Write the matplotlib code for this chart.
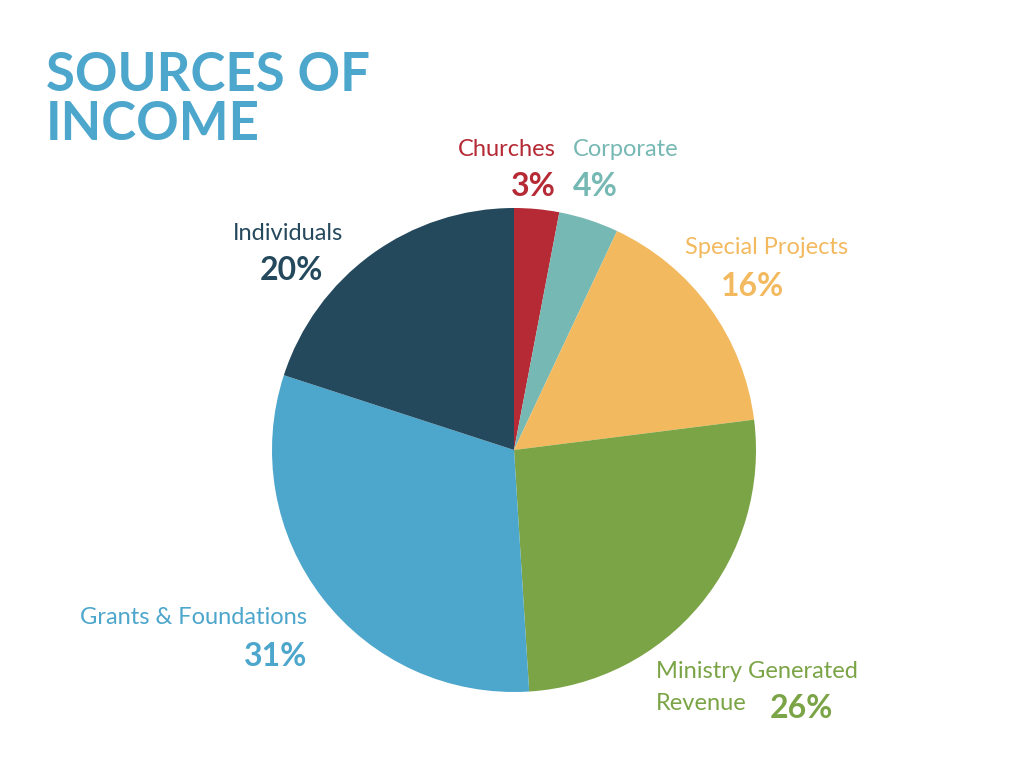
import matplotlib.pyplot as plt

plt.rcParams['font.family'] = ['Lato', 'DejaVu Sans']

categories = ['Churches', 'Corporate', 'Special Projects', 'Ministry Generated\nRevenue',
              'Grants & Foundations', 'Individuals']
values = [3, 4, 16, 26, 31, 20]
colors = ['#B52A35', '#76B8B3', '#F3B95F', '#7BA446', '#4DA6CC', '#25495C']

fig = plt.figure(figsize=(10.24, 7.68), dpi=100)
ax = fig.add_axes([0, 0, 1, 1])
ax.set_xlim(0, 1024)
ax.set_ylim(0, 768)
ax.set_aspect('equal')
ax.axis('off')

ax.pie(values, colors=colors, startangle=90, counterclock=False,
       center=(514, 768 - 450), radius=242, frame=True,
       wedgeprops=dict(linewidth=0))
ax.set_xlim(0, 1024)
ax.set_ylim(0, 768)
ax.axis('off')

def Y(y):
    return 768 - y

ax.text(46, Y(100), 'SOURCES OF\nINCOME', color='#4DA6CC', fontsize=38,
        fontweight='bold', va='center', ha='left', linespacing=1.0)

# label name, pct, name pos, pct pos, alignment
ax.text(556, Y(150), 'Churches', color=colors[0], fontsize=17, ha='right', va='center')
ax.text(556, Y(186), '3%', color=colors[0], fontsize=23, fontweight='bold', ha='right', va='center')
ax.text(573, Y(150), 'Corporate', color=colors[1], fontsize=17, ha='left', va='center')
ax.text(573, Y(186), '4%', color=colors[1], fontsize=23, fontweight='bold', ha='left', va='center')
ax.text(685, Y(248), 'Special Projects', color=colors[2], fontsize=17, ha='left', va='center')
ax.text(753, Y(286), '16%', color=colors[2], fontsize=23, fontweight='bold', ha='center', va='center')
ax.text(343, Y(234), 'Individuals', color=colors[5], fontsize=17, ha='right', va='center')
ax.text(323, Y(270), '20%', color=colors[5], fontsize=23, fontweight='bold', ha='right', va='center')
ax.text(307, Y(618), 'Grants & Foundations', color=colors[4], fontsize=17, ha='right', va='center')
ax.text(307, Y(656), '31%', color=colors[4], fontsize=23, fontweight='bold', ha='right', va='center')
ax.text(656, Y(671), 'Ministry Generated', color=colors[3], fontsize=17, ha='left', va='center')
ax.text(656, Y(704), 'Revenue', color=colors[3], fontsize=17, ha='left', va='center')
ax.text(770, Y(708), '26%', color=colors[3], fontsize=23, fontweight='bold', ha='left', va='center')

fig.savefig('out.png', dpi=100)
